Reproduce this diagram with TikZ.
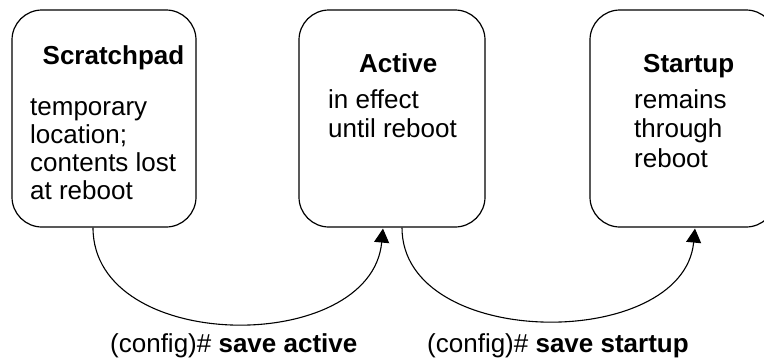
\documentclass[tikz,border=0pt]{standalone}
\usepackage{fontspec}
\setmainfont{Liberation Sans}
\usetikzlibrary{arrows.meta,calc}
\begin{document}
\begin{tikzpicture}[x=1pt,y=-1pt,
  box/.style={draw, line width=1.2pt, rounded corners=30pt, minimum width=186pt, minimum height=217pt, inner sep=0pt},
  title/.style={anchor=base west, inner sep=0pt, font=\fontsize{26}{28}\selectfont\bfseries},
  body/.style={anchor=base west, inner sep=0pt, align=left},
  cmd/.style={anchor=base west, inner sep=0pt, font=\fontsize{26}{28}\selectfont},
  conn/.style={line width=1.1pt, -{Triangle[length=14pt,width=15pt]}}]
\path[fill=white, use as bounding box] (0,0) rectangle (764,362);
% boxes
\node[box, minimum width=184pt] (scr) at (104,118.5) {};
\node[box] (act) at (392,118.5) {};
\node[box] (sta) at (683,118.5) {};
% titles
\node[title] (scrT) at (42.5,64) {Scratchpad};
\node[title] (actT) at (359,72) {Active};
\node[title] (staT) at (643,72) {Startup};
% body texts (anchored at the baseline of the last line)
\node[body, font=\fontsize{26}{28}\selectfont] (scrB) at (30,199) {temporary\\location;\\contents lost\\at reboot};
\node[body, font=\fontsize{26}{29}\selectfont] (actB) at (328,137) {in effect\\until reboot};
\node[body, font=\fontsize{26}{29.5}\selectfont] (staB) at (634,167) {remains\\through\\reboot};
% connector end points
\coordinate (c1s) at ($(scr.south)+(-11,0)$);
\coordinate (c1e) at ($(act.south)+(-9,1)$);
\coordinate (c2s) at ($(act.south)+(10,0)$);
\coordinate (c2e) at ($(sta.south)+(12,1)$);
% connectors
\draw[conn] (c1s) .. controls +(0,127) and +(-12,127) .. (c1e);
\draw[conn] (c2s) .. controls +(0,123) and +(-12,123) .. (c2e);
% labels
\node[cmd] (lab1) at (110,352) {(config)\# \textbf{save active}};
\node[cmd] (lab2) at (427,352) {(config)\# \textbf{save startup}};
\end{tikzpicture}
\end{document}
